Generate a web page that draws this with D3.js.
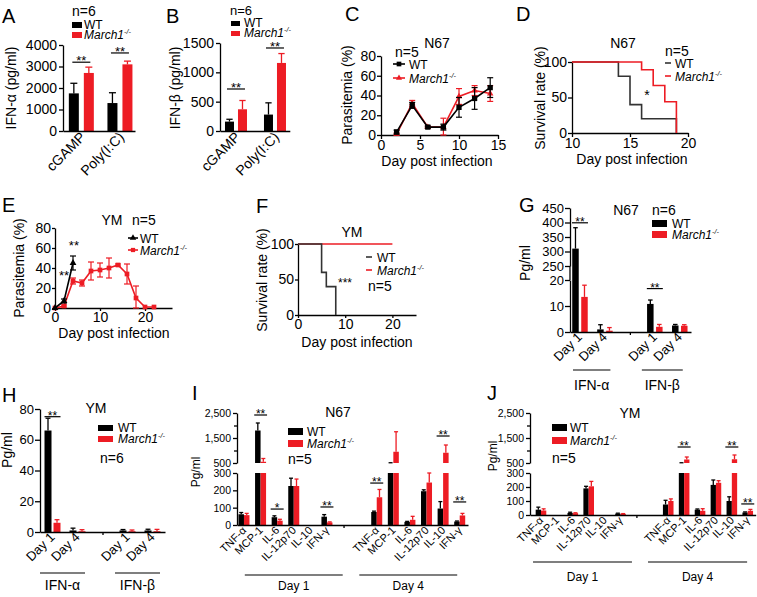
<!DOCTYPE html>
<html>
<head>
<meta charset="utf-8">
<script src="https://cdn.jsdelivr.net/npm/d3@7"></script>
<style>
  body { margin: 0; background: #fff; }
</style>
</head>
<body>
<svg id="fig" width="757" height="597"></svg>
<script>
const RED = "#ed1c24", BLK = "#000", GREY = "#333";
const FONT = "'Liberation Sans', Arial, Helvetica, sans-serif";

// ---- A: IFN-alpha ----
const aCats = ["cGAMP", "Poly(I:C)"];
const aWT = [1750, 1300], aWTerr = [470, 480];
const aKO = [2700, 3100], aKOerr = [270, 150];
const aTicks = [0, 1000, 2000, 3000, 4000];
const aSig = [3200, 3630];

// ---- B: IFN-beta ----
const bCats = ["cGAMP", "Poly(I:C)"];
const bWT = [160, 280], bWTerr = [40, 200];
const bKO = [370, 1160], bKOerr = [150, 160];
const bTicks = [0, 500, 1000, 1500];
const bSig = [716, 1415];

// ---- C: parasitemia N67 ----
const cDays = [2, 4, 6, 8, 10, 12, 14];
const cWT = [3, 30, 8, 8, 28, 37, 48], cWTerr = [2, 3, 1, 3, 10, 11, 10];
const cKO = [1, 32, 8, 8, 39, 45, 42], cKOerr = [1, 3, 1, 9, 8, 5, 8];

// ---- D: survival N67 ----
const dWTDays = [10, 14, 15, 16, 19], dWT = [100, 80, 40, 20, 0];
const dKODays = [10, 16, 17, 18, 19], dKO = [100, 89, 67, 44, 0];

// ---- E: parasitemia YM ----
const eWTDays = [0, 2, 4], eWT = [0, 7, 45], eWTerr = [0, 2, 7];
const eKODays = [0, 2, 4, 6, 8, 10, 12, 14, 16, 18, 20, 22];
const eKO = [0, 2, 27, 25, 37, 38, 40, 43, 34, 10, 1, 1];
const eKOerr = [0, 1, 3, 3, 9, 7, 10, 1, 10, 12, 0, 0];
const eSigDays = [2, 4.2], eSigVals = [28, 58];

// ---- F: survival YM ----
const fWTDays = [0, 5, 6, 8], fWT = [100, 60, 40, 0];
const fKODays = [0, 20], fKO = [100, 100];

// ---- G: IFN N67 ----
const ifnDays = ["Day 1", "Day 4", "Day 1", "Day 4"];
const ifnGroups = ["IFN-α", "IFN-β"];
const gWT = [310, 1, 10.8, 2.5], gWTerr = [72, 1.8, 1.5, 0.4];
const gKO = [13.5, 0.5, 2, 2.4], gKOerr = [4.5, 1.2, 0.9, 0.4];
const gTicksLow = [0, 10, 20], gTicksHigh = [250, 300, 350, 400, 450];
const gSigVals = [399, 16.7];

// ---- H: IFN YM ----
const hWT = [66, 1, 1, 1], hWTerr = [8, 1.5, 0.6, 0.8];
const hKO = [6, 0.5, 0.5, 0.5], hKOerr = [2, 1, 0.8, 1.2];
const hTicks = [0, 20, 40, 60, 80];
const hSigVal = 75;

// ---- I / J: cytokines ----
const cytokines = ["TNF-α", "MCP-1", "IL-6", "IL-12p70", "IL-10", "IFN-γ"];
const cytoDays = ["Day 1", "Day 4"];
const iWT1 = [62, 1800, 45, 225, 0, 48], iWT1err = [10, 300, 8, 45, 0, 12];
const iKO1 = [57, 550, 25, 225, 0, 15], iKO1err = [10, 130, 8, 40, 0, 3];
const iWT4 = [75, 480, 18, 195, 95, 20], iWT4err = [5, 30, 3, 8, 40, 3];
const iKO4 = [160, 950, 30, 245, 910, 55], iKO4err = [45, 800, 20, 55, 310, 12];
const iSigCat = [1, 2, 5, 8, 12, 13], iSigVals = [2420, 92, 104, 242, 1580, 133];
const iSigTxt = ["**", "*", "**", "**", "**", "**"];

const jWT1 = [38, 0, 15, 190, 0, 10], jWT1err = [18, 0, 5, 15, 0, 3];
const jKO1 = [32, 0, 13, 205, 0, 8], jKO1err = [12, 0, 3, 35, 0, 2];
const jWT4 = [75, 480, 38, 215, 100, 18], jWT4err = [30, 30, 5, 35, 30, 4];
const jKO4 = [100, 640, 30, 230, 650, 30], jKO4err = [15, 100, 15, 15, 170, 10];
const jSigCat = [9, 12, 13], jSigVals = [1140, 1140, 79];
const jSigTxt = ["**", "**", "**"];

const cytoTicksLow = [0, 100, 200, 300], cytoTicksHigh = [500, 1500, 2500], cytoMinor = [1000, 2000];

const svg = d3.select("#fig").attr("font-family", FONT);

function txt(g, x, y, s, fs, anchor, italic) {
  const t = g.append("text").attr("x", x).attr("y", y).attr("font-size", fs).text(s);
  if (anchor) t.attr("text-anchor", anchor);
  if (italic) t.attr("font-style", "italic");
  return t;
}
function vlabel(g, x, y, s, fs) {
  g.append("text").attr("transform", `translate(${x},${y}) rotate(-90)`)
    .attr("text-anchor", "middle").attr("dy", "0.35em").attr("font-size", fs).text(s);
}
function slant(g, x, y, s, fs) {
  g.append("text").attr("transform", `translate(${x},${y}) rotate(-45)`)
    .attr("text-anchor", "end").attr("font-size", fs).text(s);
}
function march(g, x, y, fs) {
  const t = g.append("text").attr("x", x).attr("y", y).attr("font-size", fs).attr("font-style", "italic");
  t.append("tspan").text("March1");
  t.append("tspan").attr("dy", -fs * 0.4).attr("font-size", fs * 0.6).text("-/-");
}
function styleAxis(a, fs) {
  a.attr("font-family", null).attr("font-size", fs);
  a.selectAll("path, line").attr("stroke", "#000").attr("stroke-width", 1.3);
  a.selectAll("text").attr("fill", "#000");
}
function boxLegend(g, x, w, h, y1, y2, tx, fs) {
  g.append("rect").attr("x", x).attr("y", y1 - h - 1).attr("width", w).attr("height", h).attr("fill", BLK);
  txt(g, tx, y1, "WT", fs);
  g.append("rect").attr("x", x).attr("y", y2 - h - 1).attr("width", w).attr("height", h).attr("fill", RED);
  march(g, tx, y2, fs);
}

// generic grouped bar panel with optional broken y axis
function barPanel(o) {
  const g = svg.append("g");
  const { xs, segs, series, slots, barW, gap } = o;
  const capW = o.capW || barW * 0.7;
  const inner = d3.scaleBand().domain(series.map(s => s.key))
    .range([-(barW + gap / 2), barW + gap / 2]).paddingInner(gap / (barW + gap));
  const yOf = v => {
    const sg = segs.find(s => v >= s.lo && v <= s.hi) || (v < segs[0].lo ? segs[0] : segs[segs.length - 1]);
    return sg.y(v);
  };

  series.forEach(s => {
    s.v.forEach((v, i) => {
      const x = xs(slots[i]) + inner(s.key), cx = x + barW / 2;
      segs.forEach((sg, k) => {
        if (v > sg.lo) {
          const top = Math.min(v, sg.hi);
          g.append("rect").attr("x", x).attr("width", barW)
            .attr("y", sg.y(top)).attr("height", sg.y(sg.lo) - sg.y(top)).attr("fill", s.color);
        }
        if (o.bridge && k < segs.length - 1 && v > segs[k + 1].lo) {
          const nx = segs[k + 1];
          g.append("rect").attr("x", x).attr("width", barW)
            .attr("y", nx.y(nx.lo)).attr("height", sg.y(sg.hi) - nx.y(nx.lo)).attr("fill", s.color);
        }
      });
      const e = s.e[i];
      if (!e) return;
      const top = v + e;
      segs.forEach(sg => {
        const a = Math.max(v, sg.lo), b = Math.min(top, sg.hi);
        if (b > a) g.append("line").attr("x1", cx).attr("x2", cx).attr("y1", sg.y(a)).attr("y2", sg.y(b))
          .attr("stroke", s.color).attr("stroke-width", 1.3);
        if (top >= sg.lo && top <= sg.hi) g.append("line").attr("x1", cx - capW / 2).attr("x2", cx + capW / 2)
          .attr("y1", sg.y(top)).attr("y2", sg.y(top)).attr("stroke", s.color).attr("stroke-width", 1.3);
      });
    });
  });

  // y axis segments
  segs.forEach(sg => {
    const ax = g.append("g").attr("transform", `translate(${o.x0},0)`)
      .call(d3.axisLeft(sg.y).tickValues(sg.ticks).tickSize(o.tick || 4).tickSizeOuter(0)
        .tickPadding(o.pad || 2).tickFormat(o.fmt || d3.format("")));
    styleAxis(ax, o.fs);
    if (sg.minor) {
      const mx = g.append("g").attr("transform", `translate(${o.x0},0)`)
        .call(d3.axisLeft(sg.y).tickValues(sg.minor).tickSize(3).tickSizeOuter(0).tickFormat(""));
      styleAxis(mx, o.fs);
      mx.select(".domain").remove();
    }
  });
  if (o.bridge) {
    for (let k = 0; k < segs.length - 1; k++) {
      g.append("line").attr("x1", o.x0).attr("x2", o.x0)
        .attr("y1", segs[k].y(segs[k].hi)).attr("y2", segs[k + 1].y(segs[k + 1].lo))
        .attr("stroke", "#000").attr("stroke-width", 1.3);
    }
  }
  // x axis
  const base = segs[0].y(segs[0].lo);
  const xa = g.append("g").attr("transform", `translate(0,${base})`)
    .call(d3.axisBottom(xs).tickValues(o.minorX || []).tickFormat("").tickSize(3).tickSizeOuter(0));
  styleAxis(xa, o.fs);

  // category labels
  o.labels.forEach((s, i) => slant(g, xs(slots[i]) + (o.lblDx || 3), base + o.lblDy, s, o.lfs));

  // group lines
  (o.groups || []).forEach(gr => {
    g.append("line").attr("x1", xs(gr.from)).attr("x2", xs(gr.to))
      .attr("y1", o.groupY).attr("y2", o.groupY).attr("stroke", "#000").attr("stroke-width", 1.2);
    txt(g, (xs(gr.from) + xs(gr.to)) / 2, o.groupTextY, gr.name, o.gfs, "middle");
  });

  // significance
  (o.sig || []).forEach(sg => {
    const yy = yOf(sg.v), cx = xs(sg.slot);
    g.append("line").attr("x1", cx - o.sigHalf).attr("x2", cx + o.sigHalf)
      .attr("y1", yy).attr("y2", yy).attr("stroke", "#000").attr("stroke-width", 1.2);
    txt(g, cx, yy + 3, sg.t, o.sfs || 13, "middle");
  });
  return g;
}

function linePanel(o) {
  const g = svg.append("g");
  const { x, y } = o;
  const xa = g.append("g").attr("transform", `translate(0,${y.range()[0]})`)
    .call(d3.axisBottom(x).tickValues(o.xt).tickSize(o.tick || 4).tickSizeOuter(0).tickPadding(1));
  styleAxis(xa, o.fs);
  const ya = g.append("g").attr("transform", `translate(${x.range()[0]},0)`)
    .call(d3.axisLeft(y).tickValues(o.yt).tickSize(o.tick || 4).tickSizeOuter(0).tickPadding(1));
  styleAxis(ya, o.fs);
  o.series.forEach(s => {
    if (s.step) {
      const pts = s.days.map((d, i) => [d, s.v[i]]);
      g.append("path").datum(pts)
        .attr("d", d3.line().x(d => x(d[0])).y(d => y(d[1])).curve(d3.curveStepAfter))
        .attr("fill", "none").attr("stroke", s.color).attr("stroke-width", 1.6);
      return;
    }
    const pts = s.days.map((d, i) => ({ d, v: s.v[i], e: s.e[i] }));
    g.append("path").datum(pts)
      .attr("d", d3.line().x(p => x(p.d)).y(p => y(p.v)))
      .attr("fill", "none").attr("stroke", s.color).attr("stroke-width", 1.6);
    pts.forEach(p => {
      if (!p.e) return;
      const lo = Math.max(0, p.v - p.e), hi = p.v + p.e;
      g.append("line").attr("x1", x(p.d)).attr("x2", x(p.d)).attr("y1", y(lo)).attr("y2", y(hi))
        .attr("stroke", s.color).attr("stroke-width", 1.2);
      [lo, hi].forEach(v => g.append("line").attr("x1", x(p.d) - 3).attr("x2", x(p.d) + 3)
        .attr("y1", y(v)).attr("y2", y(v)).attr("stroke", s.color).attr("stroke-width", 1.2));
    });
    g.selectAll(null).data(pts).enter().append("path")
      .attr("transform", p => `translate(${x(p.d)},${y(p.v)})`)
      .attr("d", d3.symbol().type(s.sym).size(s.size)).attr("fill", s.color);
  });
  return g;
}

function lineLegend(g, x1, x2, y1, y2, tx, fs, syms) {
  [[y1, BLK], [y2, RED]].forEach(([yy, c], i) => {
    g.append("line").attr("x1", x1).attr("x2", x2).attr("y1", yy).attr("y2", yy)
      .attr("stroke", i === 0 && syms && syms.grey ? GREY : c).attr("stroke-width", 1.6);
    if (syms && syms.sym) g.append("path").attr("transform", `translate(${(x1 + x2) / 2},${yy})`)
      .attr("d", d3.symbol().type(syms.sym[i]).size(syms.size[i])).attr("fill", c);
  });
  txt(g, tx, y1 + 5, "WT", fs);
  march(g, tx, y2 + 5, fs);
}

// ================= A =================
{
  const y = d3.scaleLinear().domain([0, 4000]).range([131, 45]);
  const xs = d3.scaleLinear().domain([-0.475, 1.39]).range([63, 135]);
  const g = barPanel({
    xs, x0: 63, slots: [0, 1], barW: 10, gap: 5, fs: 14,
    segs: [{ lo: 0, hi: 4000, y, ticks: aTicks }],
    series: [{ key: "WT", v: aWT, e: aWTerr, color: BLK }, { key: "KO", v: aKO, e: aKOerr, color: RED }],
    labels: aCats, lblDy: 7, lfs: 14, lblDx: 5,
    sig: aSig.map((v, i) => ({ slot: i, v, t: "**" })), sigHalf: 9
  });
  txt(g, 2, 23, "A", 20);
  vlabel(g, 11, 88, "IFN-α (pg/ml)", 14);
  txt(g, 72, 16, "n=6", 14);
  boxLegend(g, 72, 10, 6, 29, 39, 84, 12);
}

// ================= B =================
{
  const y = d3.scaleLinear().domain([0, 1500]).range([131, 43]);
  const xs = d3.scaleLinear().domain([-0.41, 1.38]).range([220, 289.8]);
  const g = barPanel({
    xs, x0: 220, slots: [0, 1], barW: 9, gap: 4, fs: 14,
    segs: [{ lo: 0, hi: 1500, y, ticks: bTicks }],
    series: [{ key: "WT", v: bWT, e: bWTerr, color: BLK }, { key: "KO", v: bKO, e: bKOerr, color: RED }],
    labels: bCats, lblDy: 7, lfs: 14, lblDx: 5,
    sig: bSig.map((v, i) => ({ slot: i, v, t: "**" })), sigHalf: 9
  });
  txt(g, 166, 23, "B", 20);
  vlabel(g, 175, 88, "IFN-β (pg/ml)", 14);
  txt(g, 230, 15, "n=6", 13);
  boxLegend(g, 231, 9, 5, 27, 37, 244, 12);
}

// ================= C =================
{
  const x = d3.scaleLinear().domain([0, 15]).range([381, 498]);
  const y = d3.scaleLinear().domain([0, 80]).range([135, 56]);
  const g = linePanel({
    x, y, xt: [0, 5, 10, 15], yt: [0, 20, 40, 60, 80], fs: 14,
    series: [
      { days: cDays, v: cKO, e: cKOerr, color: RED, sym: d3.symbolTriangle, size: 18 },
      { days: cDays, v: cWT, e: cWTerr, color: BLK, sym: d3.symbolSquare, size: 28 }
    ]
  });
  txt(g, 345, 21, "C", 20);
  vlabel(g, 347, 95, "Parasitemia (%)", 14);
  txt(g, 437, 48, "N67", 14, "middle");
  txt(g, 395, 57, "n=5", 14);
  lineLegend(g, 393, 405, 64, 78, 409, 12, { sym: [d3.symbolSquare, d3.symbolTriangle], size: [22, 16] });
  txt(g, 437, 166, "Day post infection", 14, "middle");
}

// ================= D =================
{
  const x = d3.scaleLinear().domain([10, 20]).range([572, 688]);
  const y = d3.scaleLinear().domain([0, 100]).range([133, 62]);
  const g = linePanel({
    x, y, xt: [10, 15, 20], yt: [0, 50, 100], fs: 14,
    series: [
      { days: dWTDays, v: dWT, color: GREY, step: true },
      { days: dKODays, v: dKO, color: RED, step: true }
    ]
  });
  txt(g, 516, 21, "D", 20);
  vlabel(g, 540, 98, "Survival rate (%)", 14);
  txt(g, 623, 48, "N67", 14, "middle");
  txt(g, 665, 56, "n=5", 14);
  lineLegend(g, 665, 671, 63, 76, 675, 12, { grey: true });
  txt(g, 647, 100, "*", 14, "middle");
  txt(g, 632, 164, "Day post infection", 14, "middle");
}

// ================= E =================
{
  const x = d3.scaleLinear().domain([0, 26]).range([55, 172]);
  const y = d3.scaleLinear().domain([0, 80]).range([308, 228]);
  const g = linePanel({
    x, y, xt: [0, 10, 20], yt: [0, 20, 40, 60, 80], fs: 14, tick: 3,
    series: [
      { days: eKODays, v: eKO, e: eKOerr, color: RED, sym: d3.symbolSquare, size: 22 },
      { days: eWTDays, v: eWT, e: eWTerr, color: BLK, sym: d3.symbolTriangle, size: 20 }
    ]
  });
  txt(g, 2, 212, "E", 20);
  vlabel(g, 19, 268, "Parasitemia (%)", 14);
  txt(g, 112, 225, "YM", 14, "middle");
  txt(g, 132, 225, "n=5", 14);
  lineLegend(g, 128, 138, 238, 250, 140, 12, { sym: [d3.symbolTriangle, d3.symbolSquare], size: [18, 18] });
  eSigDays.forEach((d, i) => txt(g, x(d), y(eSigVals[i]), "**", 13, "middle"));
  txt(g, 114, 338, "Day post infection", 14, "middle");
}

// ================= F =================
{
  const x = d3.scaleLinear().domain([0, 25]).range([298, 416]);
  const y = d3.scaleLinear().domain([0, 100]).range([315, 244]);
  const g = linePanel({
    x, y, xt: [0, 10, 20], yt: [0, 50, 100], fs: 14, tick: 3,
    series: [
      { days: fKODays, v: fKO, color: RED, step: true },
      { days: fWTDays, v: fWT, color: GREY, step: true }
    ]
  });
  txt(g, 256, 213, "F", 20);
  vlabel(g, 262, 280, "Survival rate (%)", 14);
  txt(g, 352, 237, "YM", 14, "middle");
  lineLegend(g, 366, 372, 257, 270, 377, 12, { grey: true });
  txt(g, 368, 291, "n=5", 14);
  txt(g, 345, 287, "***", 12, "middle");
  txt(g, 357, 347, "Day post infection", 14, "middle");
}

// ================= G =================
{
  const xs = d3.scaleLinear().domain([-0.4, 4.45]).range([570, 691]);
  const lo = d3.scaleLinear().domain([0, 20]).range([332, 280]);
  const hi = d3.scaleLinear().domain([250, 450]).range([266, 208]);
  const g = barPanel({
    xs, x0: 570, slots: [0, 1, 3, 4], barW: 6.5, gap: 2.5, fs: 13, bridge: true, tick: 5, pad: 1,
    segs: [{ lo: 0, hi: 20, y: lo, ticks: gTicksLow }, { lo: 250, hi: 450, y: hi, ticks: gTicksHigh }],
    series: [{ key: "WT", v: gWT, e: gWTerr, color: BLK }, { key: "KO", v: gKO, e: gKOerr, color: RED }],
    minorX: [2],
    labels: ifnDays, lblDy: 6, lfs: 13, lblDx: 3,
    groups: [{ name: ifnGroups[0], from: -0.28, to: 1.22 }, { name: ifnGroups[1], from: 2.48, to: 4.12 }],
    groupY: 370, groupTextY: 390, gfs: 14,
    sig: [{ slot: 0, v: gSigVals[0], t: "**" }, { slot: 3, v: gSigVals[1], t: "**" }], sigHalf: 8, sfs: 12
  });
  txt(g, 519, 212, "G", 20);
  vlabel(g, 525, 263, "Pg/ml", 14);
  txt(g, 626, 215, "N67", 14, "middle");
  txt(g, 652, 215, "n=6", 14);
  boxLegend(g, 652, 15, 7, 228, 239, 672, 12);
}

// ================= H =================
{
  const xs = d3.scaleLinear().domain([-0.5, 4.5]).range([40, 165]);
  const y = d3.scaleLinear().domain([0, 80]).range([532, 409]);
  const g = barPanel({
    xs, x0: 40, slots: [0, 1, 3, 4], barW: 7, gap: 2, fs: 13, tick: 5, pad: 1,
    segs: [{ lo: 0, hi: 80, y, ticks: hTicks }],
    series: [{ key: "WT", v: hWT, e: hWTerr, color: BLK }, { key: "KO", v: hKO, e: hKOerr, color: RED }],
    minorX: [2],
    labels: ifnDays, lblDy: 6, lfs: 13, lblDx: 3,
    groups: [{ name: ifnGroups[0], from: -0.5, to: 1.3 }, { name: ifnGroups[1], from: 2.5, to: 4.3 }],
    groupY: 573, groupTextY: 590, gfs: 14,
    sig: [{ slot: 0, v: hSigVal, t: "**" }], sigHalf: 8, sfs: 12
  });
  txt(g, 2, 402, "H", 20);
  vlabel(g, 7, 450, "Pg/ml", 14);
  txt(g, 96, 413, "YM", 14, "middle");
  boxLegend(g, 98, 15, 6, 432, 443, 118, 12);
  txt(g, 100, 463, "n=6", 14);
}

// ================= I =================
function cytoSlots() { return [0, 1, 2, 3, 4, 5, 8, 9, 10, 11, 12, 13]; }
{
  const xs = d3.scaleLinear().domain([-0.42, 13.5]).range([237, 468]);
  const lo = d3.scaleLinear().domain([0, 300]).range([525, 473]);
  const hi = d3.scaleLinear().domain([500, 2500]).range([463, 413]);
  const g = barPanel({
    xs, x0: 237, slots: cytoSlots(), barW: 5.5, gap: 0, capW: 4, fs: 10.5, tick: 4, pad: 2,
    fmt: d3.format(","),
    segs: [{ lo: 0, hi: 300, y: lo, ticks: cytoTicksLow }, { lo: 500, hi: 2500, y: hi, ticks: cytoTicksHigh, minor: cytoMinor }],
    series: [
      { key: "WT", v: iWT1.concat(iWT4), e: iWT1err.concat(iWT4err), color: BLK },
      { key: "KO", v: iKO1.concat(iKO4), e: iKO1err.concat(iKO4err), color: RED }
    ],
    minorX: [6],
    labels: cytokines.concat(cytokines), lblDy: 6, lfs: 11, lblDx: 3,
    groups: [{ name: cytoDays[0], from: 0.05, to: 5.95 }, { name: cytoDays[1], from: 6.95, to: 12.85 }],
    groupY: 575, groupTextY: 590, gfs: 12,
    sig: iSigCat.map((s, i) => ({ slot: s, v: iSigVals[i], t: iSigTxt[i] })), sigHalf: 6.5, sfs: 12
  });
  txt(g, 192, 400, "I", 20);
  vlabel(g, 196, 472, "Pg/ml", 12);
  txt(g, 338, 417, "N67", 14, "middle");
  boxLegend(g, 288, 15, 7, 436, 448, 307, 12);
  txt(g, 288, 464, "n=5", 14);
}

// ================= J =================
{
  const xs = d3.scaleLinear().domain([-0.69, 13.5]).range([530, 755.7]);
  const lo = d3.scaleLinear().domain([0, 300]).range([515, 473]);
  const hi = d3.scaleLinear().domain([500, 2500]).range([463, 413]);
  const g = barPanel({
    xs, x0: 530, slots: cytoSlots(), barW: 5.3, gap: 0, capW: 4, fs: 10.5, tick: 4, pad: 2,
    fmt: d3.format(","),
    segs: [{ lo: 0, hi: 300, y: lo, ticks: cytoTicksLow }, { lo: 500, hi: 2500, y: hi, ticks: cytoTicksHigh, minor: cytoMinor }],
    series: [
      { key: "WT", v: jWT1.concat(jWT4), e: jWT1err.concat(jWT4err), color: BLK },
      { key: "KO", v: jKO1.concat(jKO4), e: jKO1err.concat(jKO4err), color: RED }
    ],
    minorX: [6],
    labels: cytokines.concat(cytokines), lblDy: 6, lfs: 11, lblDx: 3,
    groups: [{ name: cytoDays[0], from: -0.5, to: 5.72 }, { name: cytoDays[1], from: 6.73, to: 12.96 }],
    groupY: 562, groupTextY: 581, gfs: 12,
    sig: jSigCat.map((s, i) => ({ slot: s, v: jSigVals[i], t: jSigTxt[i] })), sigHalf: 6.5, sfs: 12
  });
  txt(g, 487, 400, "J", 20);
  vlabel(g, 493, 456, "Pg/ml", 12);
  txt(g, 630, 418, "YM", 14, "middle");
  boxLegend(g, 552, 15, 7, 432, 445, 570, 12);
  txt(g, 552, 463, "n=5", 14);
}
</script>
</body>
</html>
